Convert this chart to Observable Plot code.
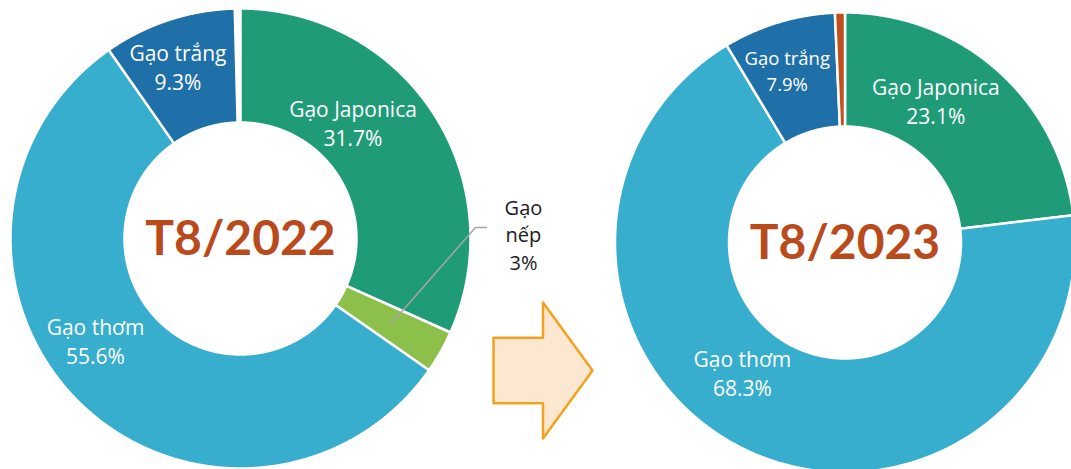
<!DOCTYPE html>
<html>
<head>
<meta charset="utf-8">
<script src="https://cdn.jsdelivr.net/npm/d3@7"></script>
<script src="https://cdn.jsdelivr.net/npm/@observablehq/plot@0.6"></script>
<style>
  html, body { margin: 0; padding: 0; background: #fff; }
  #chart { width: 1071px; height: 469px; overflow: hidden; }
  #chart svg { font-family: "Open Sans", sans-serif; }
</style>
</head>
<body>
<div id="chart"></div>
<script>
// ---- data ----
const periods = ["T8/2022", "T8/2023"];
const categories = ["Gạo Japonica", "Gạo nếp", "Gạo thơm", "Gạo trắng", "Khác"];
const share2022 = [31.7, 3, 55.6, 9.3, null];
const share2023 = [23.1, null, 68.3, 7.9, 0.7];
const categoryColors = ["#1f9b78", "#8cc04a", "#37aecd", "#1f6fa9", "#c0501f"];
const labelledCategories = ["Gạo Japonica", "Gạo nếp", "Gạo thơm", "Gạo trắng"];

// ---- layout ----
const W = 1071, H = 469;
const centers = [[240, 238], [844.5, 242]];
const rOuter = 230, rInner = 116;
// label placement: [angle (deg, clockwise from top), radius, fontSize, colour]
const labelLayout = {
  "T8/2022|Gạo Japonica": [44, 162, 21, "#fff"],
  "T8/2022|Gạo trắng": [340, 183, 21, "#fff"],
  "T8/2022|Gạo thơm": [235, 177, 21, "#fff"],
  "T8/2022|Gạo nếp": [89, 283, 20, "#1a1a1a"],
  "T8/2023|Gạo Japonica": [32.5, 169, 21, "#fff"],
  "T8/2023|Gạo trắng": [341.5, 182, 18.5, "#fff"],
  "T8/2023|Gạo thơm": [218.3, 165.5, 21, "#fff"]
};
const arrowShape = [[0,0.26],[0.5,0.26],[0.5,0],[1,0.5],[0.5,1],[0.5,0.74],[0,0.74],[0,0.26]];
const arrowBox = {x: 493, y: 302, w: 99, h: 136};

const seriesByPeriod = [share2022, share2023];
const rad = d => d * Math.PI / 180;
const polar = (c, ang, r) => [c[0] + r * Math.sin(ang), c[1] - r * Math.cos(ang)];

const slicePts = [];
const labels = [];
const leaders = [];
periods.forEach((p, pi) => {
  const c = centers[pi];
  const vals = seriesByPeriod[pi];
  let cum = 0;
  categories.forEach((cat, ci) => {
    const v = vals[ci];
    if (v == null) return;
    const a0 = cum / 100 * 2 * Math.PI, a1 = (cum + v) / 100 * 2 * Math.PI;
    cum += v;
    const id = p + "|" + cat;
    const n = Math.max(2, Math.ceil((a1 - a0) / rad(0.25)));
    const ring = [];
    for (let k = 0; k <= n; k++) ring.push(polar(c, a0 + (a1 - a0) * k / n, rOuter));
    for (let k = n; k >= 0; k--) ring.push(polar(c, a0 + (a1 - a0) * k / n, rInner));
    ring.push(ring[0]);
    ring.forEach(([x, y]) => slicePts.push({id, x, y, color: categoryColors[ci]}));
    const L = labelLayout[id];
    if (L && labelledCategories.includes(cat)) {
      const [lx, ly] = polar(c, rad(L[0]), L[1]);
      const txt = cat === "Gạo nếp" ? `Gạo\nnếp\n${v}%` : `${cat}\n${v}%`;
      labels.push({x: lx, y: ly, text: txt, size: L[2], color: L[3]});
      if (cat === "Gạo nếp") {
        const mid = (a0 + a1) / 2;
        const [sx, sy] = polar(c, mid, (rOuter + rInner) / 2);
        leaders.push({x: sx, y: sy}, {x: lx - 48, y: ly - 6}, {x: lx - 37, y: ly - 6});
      }
    }
  });
});

const arrowPts = arrowShape.map(([u, v]) => ({x: arrowBox.x + u * arrowBox.w, y: arrowBox.y + v * arrowBox.h}));
const centerTitles = periods.map((p, i) => ({x: centers[i][0], y: centers[i][1], text: p}));

const textMarks = [...new Set(labels.map(d => d.size + "|" + d.color))].map(key => {
  const [s, col] = key.split("|");
  return Plot.text(labels.filter(d => d.size + "|" + d.color === key), {
    x: "x", y: "y", text: "text", fontSize: +s, fill: col, lineHeight: 1.38
  });
});

const chart = Plot.plot({
  width: W, height: H, margin: 0,
  x: {domain: [0, W], range: [0, W], axis: null},
  y: {domain: [0, H], range: [0, H], axis: null},
  color: {type: "identity"},
  style: {background: "#fff", overflow: "hidden"},
  marks: [
    Plot.line(slicePts, {x: "x", y: "y", z: "id", fill: "color", stroke: "#fff", strokeWidth: 2.5, curve: "linear"}),
    Plot.line(leaders, {x: "x", y: "y", stroke: "#a6a6a6", strokeWidth: 1.5}),
    Plot.line(arrowPts, {x: "x", y: "y", fill: "#fce8d1", stroke: "#f4a11f", strokeWidth: 2.5}),
    ...textMarks,
    Plot.text(centerTitles, {x: "x", y: "y", text: "text", fontSize: 48, fontWeight: "bold", fill: "#b94a1c", dy: 1, fontFamily: "Lato, 'Open Sans', sans-serif"})
  ]
});
document.getElementById("chart").appendChild(chart);
</script>
</body>
</html>
